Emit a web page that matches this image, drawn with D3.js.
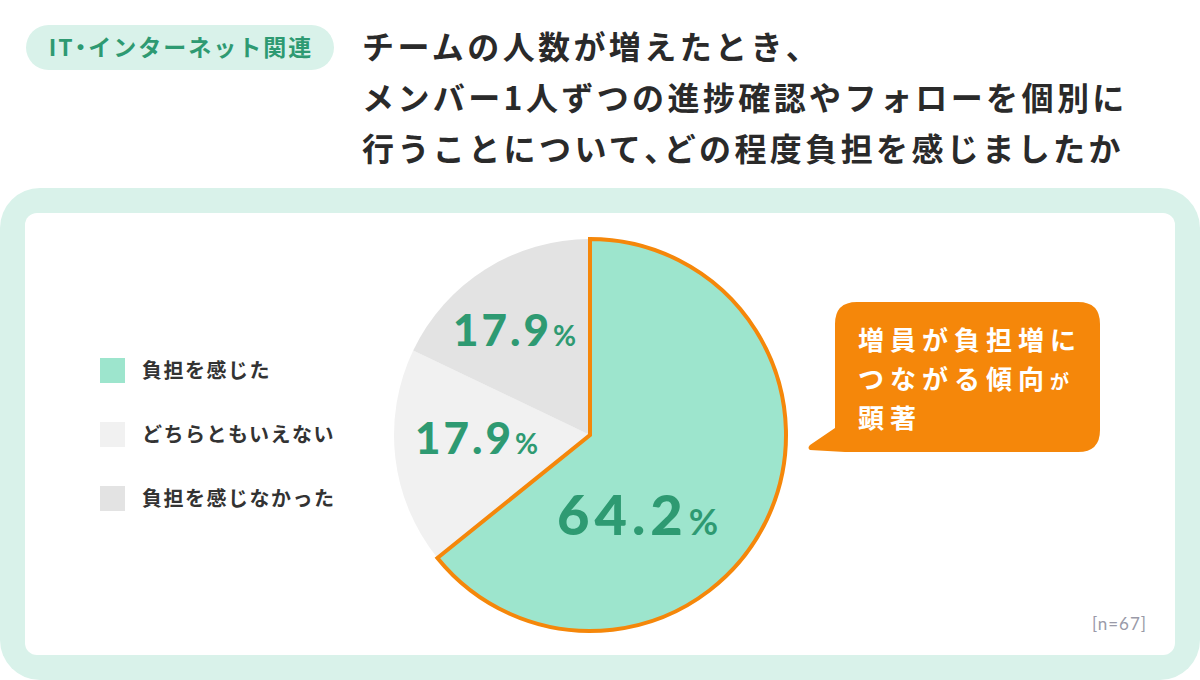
<!DOCTYPE html>
<html><head><meta charset="utf-8">
<script src="https://cdn.jsdelivr.net/npm/d3@7"></script>
<style>
html,body{margin:0;padding:0;background:#fff;}
svg{display:block;}
.halt{font-feature-settings:"halt";}
</style></head>
<body>
<script>
const categories = ["負担を感じた", "どちらともいえない", "負担を感じなかった"];
const values = [64.2, 17.9, 17.9];
const valueLabels = ["64.2", "17.9", "17.9"];
const colors = ["#9de5cd", "#f1f1f1", "#e3e3e3"];
const tagText = "IT・インターネット関連";
const titleLines = ["チームの人数が増えたとき、", "メンバー1人ずつの進捗確認やフォローを個別に", "行うことについて、どの程度負担を感じましたか"];
const noteText = "[n=67]";

const W = 1200, H = 680;
const jp = "'Noto Sans CJK JP', 'Noto Sans', sans-serif";
const num = "Lato, 'Noto Sans', sans-serif";
const green = "#2e9a72", orange = "#f5870a";

const svg = d3.select("body").append("svg").attr("width", W).attr("height", H);

// split text so that the ideographic comma / middle dot get half-width forms
function addHalt(sel, str) {
  str.split(/([、・])/).filter(s => s.length).forEach(s => {
    const t = sel.append("tspan").text(s);
    if (s === "、" || s === "・") t.attr("class", "halt");
  });
}

// tag
svg.append("rect").attr("x", 26).attr("y", 25).attr("width", 308).attr("height", 45).attr("rx", 22.5).attr("fill", "#d9f2ea");
const tag = svg.append("text").attr("x", 181).attr("y", 56).attr("text-anchor", "middle")
  .attr("font-family", jp).attr("font-weight", 700).attr("font-size", 23).attr("fill", green).attr("letter-spacing", 2);
addHalt(tag, tagText);

// title
svg.append("g").selectAll("text").data(titleLines).join("text")
  .attr("x", 362).attr("y", (d, i) => 59 + i * 51)
  .attr("font-family", jp).attr("font-weight", 700).attr("font-size", 32).attr("fill", "#2a2a2a")
  .attr("letter-spacing", 3.4)
  .each(function(d) { addHalt(d3.select(this), d); });

// panels
svg.append("rect").attr("x", 0).attr("y", 188).attr("width", 1200).attr("height", 492).attr("rx", 40).attr("fill", "#d9f2ea");
svg.append("rect").attr("x", 25).attr("y", 213).attr("width", 1150).attr("height", 442).attr("rx", 12).attr("fill", "#fff");

// pie
const cx = 590, cy = 435, R = 196;
const pie = d3.pie().sort(null).value(d => d)(values);
const arc = d3.arc().innerRadius(0).outerRadius(R);
const g = svg.append("g").attr("transform", `translate(${cx},${cy})`);
g.selectAll("path.s").data(pie).join("path").attr("class", "s")
  .attr("d", arc).attr("fill", (d, i) => colors[i]);
g.append("path").attr("d", arc(pie[0])).attr("fill", "none")
  .attr("stroke", orange).attr("stroke-width", 4).attr("stroke-linejoin", "miter");

// value labels
const labelPos = [[cx + 50, cy + 100], [cx - 112, cy + 19], [cx - 74, cy - 89]];
const labelSize = [56, 44, 44];
const labelSpacing = [5, 3, 3];
pie.forEach((d, i) => {
  const t = svg.append("text").attr("x", labelPos[i][0]).attr("y", labelPos[i][1])
    .attr("text-anchor", "middle").attr("font-family", num).attr("font-weight", 900)
    .attr("fill", green).attr("letter-spacing", labelSpacing[i]);
  t.append("tspan").attr("font-size", labelSize[i]).text(valueLabels[i]);
  t.append("tspan").attr("font-size", labelSize[i] * 0.64).attr("font-weight", 700).attr("dx", 1).text("%");
});

// legend
const lg = svg.append("g");
categories.forEach((c, i) => {
  lg.append("rect").attr("x", 100).attr("y", 358 + i * 64).attr("width", 25).attr("height", 25).attr("fill", colors[i]);
  lg.append("text").attr("x", 142).attr("y", 378 + i * 64)
    .attr("font-family", jp).attr("font-weight", 700).attr("font-size", 20).attr("fill", "#333")
    .attr("letter-spacing", 1.5).text(c);
});

// callout
const bx = 835, by = 302, bw = 265, bh = 150, br = 22;
svg.append("path").attr("d",
  `M${bx + br},${by} H${bx + bw - br} Q${bx + bw},${by} ${bx + bw},${by + br} V${by + bh - br} Q${bx + bw},${by + bh} ${bx + bw - br},${by + bh} H${bx + 10} L810,450 Q807,448 810,445 L${bx},${by + bh - 24} V${by + br} Q${bx},${by} ${bx + br},${by} Z`)
  .attr("fill", orange);
const cl = svg.append("g").attr("font-family", jp).attr("font-weight", 700).attr("fill", "#fff").attr("letter-spacing", 6);
cl.append("text").attr("x", 858).attr("y", 350).attr("font-size", 26).text("増員が負担増に");
const l2 = cl.append("text").attr("x", 858).attr("y", 389).attr("font-size", 26);
l2.append("tspan").text("つながる傾向");
l2.append("tspan").attr("font-size", 19).attr("letter-spacing", 0).text("が");
cl.append("text").attr("x", 858).attr("y", 428).attr("font-size", 26).text("顕著");

// note
svg.append("text").attr("x", 1147).attr("y", 630).attr("text-anchor", "end")
  .attr("font-family", num).attr("font-size", 17).attr("fill", "#9a9aa8").attr("letter-spacing", 1).text(noteText);
</script>
</body></html>
